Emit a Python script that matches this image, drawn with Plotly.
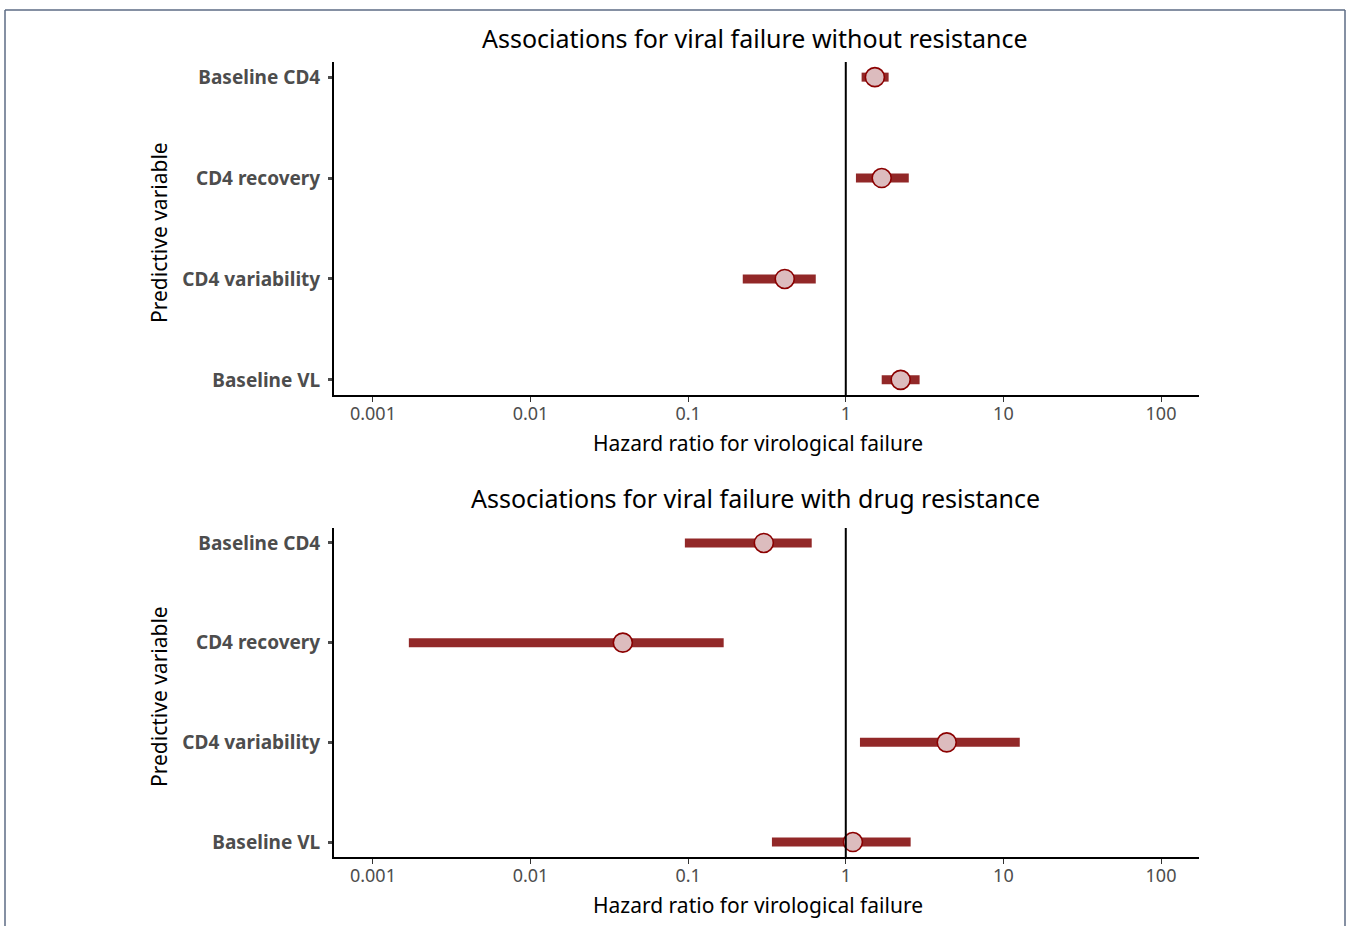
import plotly.graph_objects as go

# Hazard ratios with 95% confidence intervals, per predictor
variables = ["Baseline CD4", "CD4 recovery", "CD4 variability", "Baseline VL"]

hr_no_res = [1.53, 1.69, 0.41, 2.23]
lo_no_res = [1.26, 1.16, 0.222, 1.69]
hi_no_res = [1.87, 2.51, 0.645, 2.94]

hr_res = [0.302, 0.0385, 4.37, 1.11]
lo_res = [0.0953, 0.00169, 1.23, 0.34]
hi_res = [0.608, 0.168, 12.7, 2.58]

panel_titles = [
    "Associations for viral failure without resistance",
    "Associations for viral failure with drug resistance",
]
tick_vals = [0.001, 0.01, 0.1, 1, 10, 100]
tick_text = ["0.001", "0.01", "0.1", "1", "10", "100"]

W, H = 1346, 926
FONT = "Noto Sans"
BAR = "#922828"
FILL = "#dcbcbe"
EDGE = "#8b0000"
GREY = "#4d4d4d"

fig = go.Figure()

# pixel layout of the two panels
x_px = (334, 1199)
panels_px = [(62, 395), (528, 857)]
title_px = [38, 498]
ytitle_px = [233, 697]
xdom = [x_px[0] / W, x_px[1] / W]

panels = [(hr_no_res, lo_no_res, hi_no_res), (hr_res, lo_res, hi_res)]
ypos = [4, 3, 2, 1]

for i, (hr, lo, hi) in enumerate(panels):
    xa = "x" if i == 0 else "x2"
    ya = "y" if i == 0 else "y2"
    # confidence interval bars
    bx, by = [], []
    for l, h, y in zip(lo, hi, ypos):
        bx += [l, h, None]
        by += [y, y, None]
    fig.add_trace(go.Scatter(x=bx, y=by, mode="lines", xaxis=xa, yaxis=ya,
                             line=dict(color=BAR, width=9), showlegend=False,
                             hoverinfo="skip"))
    fig.add_trace(go.Scatter(x=hr, y=ypos, mode="markers", xaxis=xa, yaxis=ya,
                             marker=dict(size=19, color=FILL,
                                         line=dict(color=EDGE, width=1.6)),
                             showlegend=False))

axis_common = dict(
    showline=True, linecolor="black", linewidth=2,
    showgrid=False, zeroline=False, ticks="outside",
    tickcolor="#333333", tickwidth=1,
)

for i, (top, bot) in enumerate(panels_px):
    sfx = "" if i == 0 else "2"
    ydom = [1 - bot / H, 1 - top / H]
    fig.update_layout(**{
        "xaxis" + sfx: dict(
            axis_common, type="log", domain=xdom,
            range=[-3.247, 2.241], tickvals=tick_vals, ticktext=tick_text,
            ticklen=5, anchor="y" + sfx, ticklabelstandoff=-4,
            tickfont=dict(family=FONT, size=18, color=GREY),
        ),
        "yaxis" + sfx: dict(
            axis_common, domain=ydom, range=[0.85, 4.15],
            tickvals=ypos, ticktext=variables, ticklen=4,
            tickwidth=3, tickcolor=GREY, anchor="x" + sfx,
            ticklabelstandoff=4,
            tickfont=dict(family=FONT, size=19, color=GREY, weight="bold"),
        ),
    })
    # reference line at HR = 1
    fig.add_shape(type="line", xref="x" + sfx, yref="y" + sfx + " domain",
                  x0=1, x1=1, y0=0, y1=1, line=dict(color="black", width=2))
    # panel title
    fig.add_annotation(text=panel_titles[i], xref="paper", yref="paper",
                       x=755 / W, y=1 - title_px[i] / H,
                       showarrow=False, font=dict(family=FONT, size=25, color="black"),
                       xanchor="center", yanchor="middle")
    # x axis title
    fig.add_annotation(text="Hazard ratio for virological failure", xref="paper",
                       yref="paper", x=758 / W,
                       y=1 - (bot + 48) / H, showarrow=False,
                       font=dict(family=FONT, size=21, color="black"),
                       xanchor="center", yanchor="middle")
    # y axis title
    fig.add_annotation(text="Predictive variable", xref="paper", yref="paper",
                       x=159 / W, y=1 - ytitle_px[i] / H, textangle=-90,
                       showarrow=False, font=dict(family=FONT, size=21, color="black"),
                       xanchor="center", yanchor="middle")

# outer frame
frame = dict(color="#5d6b85", width=1.5)
fig.add_shape(type="line", xref="paper", yref="paper", x0=5 / W, x1=1345 / W,
              y0=1 - 10 / H, y1=1 - 10 / H, line=frame)
fig.add_shape(type="line", xref="paper", yref="paper", x0=5 / W, x1=5 / W,
              y0=0, y1=1 - 10 / H, line=frame)
fig.add_shape(type="line", xref="paper", yref="paper", x0=1345 / W, x1=1345 / W,
              y0=0, y1=1 - 10 / H, line=frame)

fig.update_layout(
    width=W, height=H, margin=dict(l=0, r=0, t=0, b=0),
    paper_bgcolor="white", plot_bgcolor="white",
    font=dict(family=FONT),
)

fig.write_html("out.html")
